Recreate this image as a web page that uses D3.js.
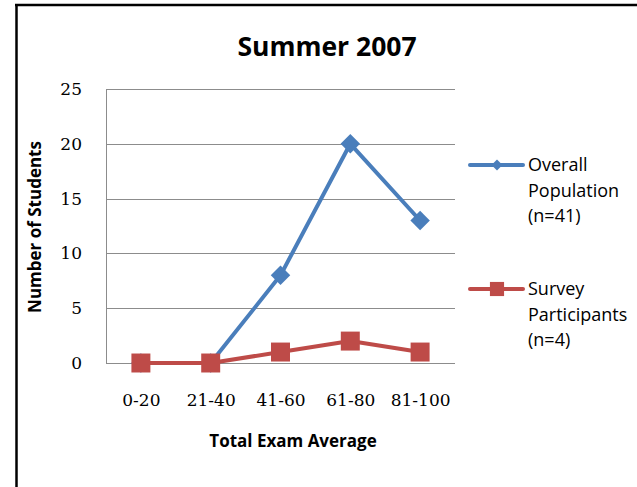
<!DOCTYPE html>
<html>
<head>
<meta charset="utf-8">
<script src="https://cdn.jsdelivr.net/npm/d3@7"></script>
<style>
  body { margin: 0; background: #fff; }
  svg text { fill: #000; }
</style>
</head>
<body>
<div id="chart"></div>
<script>
// chart data
var categories = ["0-20", "21-40", "41-60", "61-80", "81-100"];
var overallValues = [0, 0, 8, 20, 13];
var surveyValues = [0, 0, 1, 2, 1];
var yTicks = [0, 5, 10, 15, 20, 25];
var seriesNames = [["Overall", "Population", "(n=41)"], ["Survey", "Participants", "(n=4)"]];

const BLUE = "#4A7EBB";
const RED = "#BE4B48";
const SANS = "'Open Sans', 'Noto Sans', sans-serif";
const SERIF = "'DejaVu Serif', serif";

var width = 637, height = 487;
var plot = {left: 106, right: 455, top: 89, bottom: 363};

var svg = d3.select("#chart").append("svg")
    .attr("width", width)
    .attr("height", height);

// frame (only top and left edges visible in the crop)
svg.append("line").attr("x1", 15).attr("y1", 5).attr("x2", width).attr("y2", 5)
    .attr("stroke", "#000").attr("stroke-width", 2.5);
svg.append("line").attr("x1", 16.5).attr("y1", 4).attr("x2", 16.5).attr("y2", height)
    .attr("stroke", "#000").attr("stroke-width", 2.5);

var x = d3.scalePoint()
    .domain(categories)
    .range([plot.left, plot.right])
    .padding(0.5);

var y = d3.scaleLinear()
    .domain([0, 25])
    .range([plot.bottom, plot.top]);

// gridlines
svg.append("g").selectAll("line")
    .data(yTicks)
    .enter().append("line")
    .attr("x1", plot.left).attr("x2", plot.right)
    .attr("y1", function (d) { return Math.round(y(d)) + 0.5; })
    .attr("y2", function (d) { return Math.round(y(d)) + 0.5; })
    .attr("stroke", "#8c8c8c").attr("stroke-width", 1);

// y axis line
svg.append("line")
    .attr("x1", plot.left + 0.5).attr("x2", plot.left + 0.5)
    .attr("y1", plot.top).attr("y2", plot.bottom)
    .attr("stroke", "#8c8c8c");

// y tick labels
var yAxis = d3.axisLeft(y).tickValues(yTicks).tickSize(0).tickPadding(0);
var yg = svg.append("g").attr("transform", "translate(" + (plot.left - 24) + ",0)").call(yAxis);
yg.select(".domain").remove();
yg.selectAll("text")
    .attr("font-family", SERIF).attr("font-size", 17).attr("fill", "#000");

// x tick labels
var xAxis = d3.axisBottom(x).tickSize(0).tickPadding(0);
var xg = svg.append("g").attr("transform", "translate(0," + (plot.bottom + 31) + ")").call(xAxis);
xg.select(".domain").remove();
xg.selectAll("text")
    .attr("font-family", SERIF).attr("font-size", 17).attr("fill", "#000");

// titles
svg.append("text")
    .attr("x", 327).attr("y", 56)
    .attr("text-anchor", "middle")
    .attr("font-family", SANS).attr("font-size", 26.5).attr("font-weight", "bold")
    .text("Summer 2007");

svg.append("text")
    .attr("x", 293).attr("y", 447)
    .attr("text-anchor", "middle")
    .attr("font-family", SANS).attr("font-size", 17).attr("font-weight", "bold")
    .text("Total Exam Average");

svg.append("text")
    .attr("transform", "translate(41,227) rotate(-90)")
    .attr("text-anchor", "middle")
    .attr("font-family", SANS).attr("font-size", 17).attr("font-weight", "bold")
    .text("Number of Students");

var line = d3.line()
    .x(function (d, i) { return x(categories[i]); })
    .y(function (d) { return y(d); });

// diamond = square turned 45 degrees, like the Excel marker
function drawSeries(values, color, angle, size) {
    svg.append("path")
        .datum(values)
        .attr("d", line)
        .attr("fill", "none")
        .attr("stroke", color)
        .attr("stroke-width", 4)
        .attr("stroke-linejoin", "round");
    svg.append("g").selectAll("path")
        .data(values)
        .enter().append("path")
        .attr("transform", function (d, i) {
            return "translate(" + x(categories[i]) + "," + y(d) + ") rotate(" + angle + ")";
        })
        .attr("d", d3.symbol().type(d3.symbolSquare).size(size))
        .attr("fill", color);
}

drawSeries(overallValues, BLUE, 45, 190);
drawSeries(surveyValues, RED, 0, 360);

// legend
var legendY = [165, 289];
var legendColors = [BLUE, RED];
var legendAngles = [45, 0];
var legendSizes = [60, 200];

seriesNames.forEach(function (lines, k) {
    var g = svg.append("g").attr("transform", "translate(0," + legendY[k] + ")");
    g.append("line").attr("x1", 470).attr("x2", 523).attr("y1", 0).attr("y2", 0)
        .attr("stroke", legendColors[k]).attr("stroke-width", 4).attr("stroke-linecap", "round");
    g.append("path").attr("transform", "translate(497,0) rotate(" + legendAngles[k] + ")")
        .attr("d", d3.symbol().type(d3.symbolSquare).size(legendSizes[k]))
        .attr("fill", legendColors[k]);
    var t = g.append("text")
        .attr("font-family", SANS).attr("font-size", 18);
    lines.forEach(function (s, j) {
        t.append("tspan").attr("x", 528).attr("y", 6 + j * 25.5).text(s);
    });
});
</script>
</body>
</html>
